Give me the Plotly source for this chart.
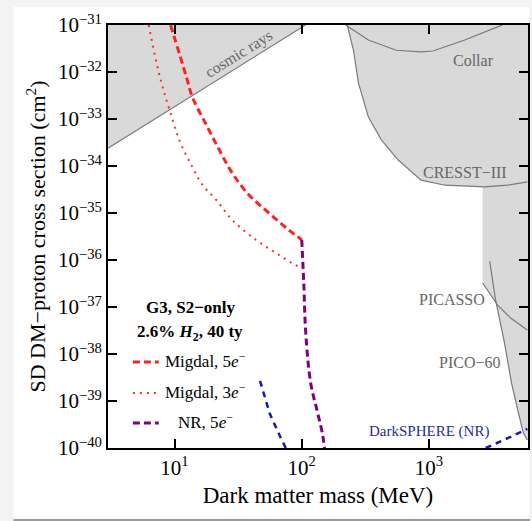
import math
import plotly.graph_objects as go

# ---- exclusion-region boundaries (DM mass in MeV, SD cross section in cm^2) ----
cosmic_mass = [3.0, 107.0]
cosmic_xs = [2.4e-34, 1.0e-31]

cresst_mass = [228, 255, 279, 334, 422, 573, 866, 1334, 2740, 4140, 5930]
cresst_xs = [1.0e-31, 2.9e-32, 5.8e-33, 1.1e-33, 3.6e-34, 1.34e-34, 5.0e-35,
             3.9e-35, 3.6e-35, 3.9e-35, 4.6e-35]

collar_mass = [221, 334, 552, 866, 1075, 1910, 3460, 3785]
collar_xs = [1.0e-31, 4.8e-32, 2.9e-32, 2.67e-32, 2.8e-32, 4.8e-32, 9.1e-32, 1.0e-31]

picasso_mass = [2640, 3460, 4375, 5420, 5930]
picasso_xs = [3.24e-37, 1.10e-37, 5.83e-38, 3.75e-38, 3.24e-38]

pico_mass = [3000, 3335, 3925, 4450, 5045, 5520, 5930]
pico_xs = [9.5e-37, 1.41e-37, 1.71e-38, 2.42e-39, 5.56e-40, 2.08e-40, 1.48e-40]

# ---- projected sensitivities ----
migdal5_mass = [9.31, 12.4, 13.8, 17.8, 22.5, 28.4, 38.5, 55.2, 79.1, 100]
migdal5_xs = [1e-31, 7.83e-33, 2.94e-33, 7.45e-34, 2.19e-34, 7.10e-35, 2.42e-35,
              1.0e-35, 4.35e-36, 2.7e-36]

migdal3_mass = [6.27, 7.22, 8.06, 9.14, 10.9, 13.8, 16.6, 21.3, 28.4, 43.7, 62.7, 83.5, 102]
migdal3_xs = [1e-31, 1.55e-32, 4.8e-33, 1.55e-33, 3.57e-34, 9.53e-35, 3.94e-35,
              1.89e-35, 7.10e-36, 2.67e-36, 1.41e-36, 8.63e-37, 6.6e-37]

nr5_mass = [100, 103.7, 107.5, 117.5, 133.4, 146, 151]
nr5_xs = [2.7e-36, 3.2e-37, 2.8e-38, 2.42e-39, 5.56e-40, 1.89e-40, 1.0e-40]

darksphere_mass = [47, 56.2, 68.5, 75, None, 2790, 3460, 4530, 5930]
darksphere_xs = [2.67e-39, 5.28e-40, 1.63e-40, 1.0e-40, None, 1e-40, 1.28e-40, 1.8e-40, 2.54e-40]

x_tick_vals = [10, 100, 1000]
x_tick_text = ["10<sup>1</sup>", "10<sup>2</sup>", "10<sup>3</sup>"]
y_tick_exps = list(range(-40, -30))
y_tick_vals = [10.0 ** e for e in y_tick_exps]
y_tick_text = ["10<sup>\u2212%d</sup>" % abs(e) for e in y_tick_exps]

MASS_MIN, MASS_MAX = 3.0, 6000.0
XS_MIN, XS_MAX = 1e-40, 1e-31

FILL = "#d9d9d9"
EDGE = "#7a7a7a"
LABEL = "#666666"
SERIF = "Liberation Serif, Times New Roman, serif"

fig = go.Figure()

# cosmic-ray bound (excluded above the line)
fig.add_trace(go.Scatter(
    x=cosmic_mass + [cosmic_mass[0]], y=cosmic_xs + [XS_MAX],
    fill="toself", fillcolor=FILL, line=dict(width=0), mode="lines", hoverinfo="skip"))
fig.add_trace(go.Scatter(x=cosmic_mass, y=cosmic_xs, mode="lines",
                         line=dict(color=EDGE, width=1.2)))

# CRESST-III (excluded above)
fig.add_trace(go.Scatter(
    x=cresst_mass + [MASS_MAX, MASS_MAX], y=cresst_xs + [cresst_xs[-1], XS_MAX],
    fill="toself", fillcolor=FILL, line=dict(width=0), mode="lines", hoverinfo="skip"))

# PICASSO (excluded above)
fig.add_trace(go.Scatter(
    x=[picasso_mass[0]] + picasso_mass + [MASS_MAX, MASS_MAX],
    y=[5e-35] + picasso_xs + [picasso_xs[-1], 5e-35],
    fill="toself", fillcolor=FILL, line=dict(width=0), mode="lines", hoverinfo="skip"))

# PICO-60 (excluded to the right)
fig.add_trace(go.Scatter(
    x=pico_mass + [MASS_MAX, MASS_MAX], y=pico_xs + [pico_xs[-1], pico_xs[0]],
    fill="toself", fillcolor=FILL, line=dict(width=0), mode="lines", hoverinfo="skip"))

for mx, sx in [(cresst_mass, cresst_xs), (collar_mass, collar_xs),
               (picasso_mass, picasso_xs), (pico_mass, pico_xs)]:
    fig.add_trace(go.Scatter(x=mx, y=sx, mode="lines", line=dict(color=EDGE, width=1.2)))

# projections
fig.add_trace(go.Scatter(x=darksphere_mass, y=darksphere_xs, mode="lines",
                         line=dict(color="#1a1aa8", width=2.5, dash="6px,5px")))
fig.add_trace(go.Scatter(x=migdal3_mass, y=migdal3_xs, mode="lines", line_shape="spline",
                         line=dict(color="#ff2a2a", width=2, dash="2px,5px")))
fig.add_trace(go.Scatter(x=migdal5_mass, y=migdal5_xs, mode="lines", line_shape="spline",
                         line=dict(color="#ff2020", width=3, dash="7px,4px")))
fig.add_trace(go.Scatter(x=nr5_mass, y=nr5_xs, mode="lines", line_shape="spline",
                         line=dict(color="#800080", width=3, dash="7px,4px")))


def lg(v):
    return math.log10(v)


def note(text, mass, xs, color=LABEL, size=16, angle=0):
    fig.add_annotation(x=lg(mass), y=lg(xs), text=text, showarrow=False,
                       xanchor="center", yanchor="middle",
                       textangle=angle, font=dict(family=SERIF, size=size, color=color))


note("cosmic rays", 32, 2.4e-32, size=16, angle=-31.7)
note("Collar", 2250, 1.8e-32)
note("CRESST\u2212III", 1910, 7.1e-35)
note("PICASSO", 1514, 1.48e-37)
note("PICO\u221260", 2090, 6.5e-39)
note("DarkSPHERE (NR)", 1000, 2.2e-40, color="#2a2aa0", size=15)

# key block
PW, PH = 422.0, 423.0


def px_x(p):
    return (p - 108) / PW


def px_y(p):
    return (448 - p) / PH


key_font = dict(family=SERIF, size=17, color="black")


def key_text(text, xp, yp):
    fig.add_annotation(xref="paper", yref="paper", x=px_x(xp), y=px_y(yp),
                       xanchor="center", yanchor="middle",
                       text=text, showarrow=False, font=key_font)


key_text("<b>G3, S2\u2212only</b>", 191, 307)
key_text("<b>2.6% <i>H</i><sub>2</sub>, 40 ty</b>", 190, 333)

key_rows = [
    ("Migdal, 5<i>e</i><sup>\u2212</sup>", "#ff2020", 3, "7px,4px", 362),
    ("Migdal, 3<i>e</i><sup>\u2212</sup>", "#ff2a2a", 2, "2px,5px", 393),
    ("NR, 5<i>e</i><sup>\u2212</sup>", "#800080", 3, "7px,4px", 423),
]
for label, color, width, dash, row in key_rows:
    fig.add_shape(type="line", xref="paper", yref="paper",
                  x0=px_x(133), x1=px_x(159), y0=px_y(row), y1=px_y(row),
                  line=dict(color=color, width=width, dash=dash))
    key_text(label, 206, row - 2)

# page card behind the figure
fig.add_shape(type="rect", xref="paper", yref="paper", layer="below",
              x0=px_x(13), x1=px_x(531), y0=px_y(519), y1=px_y(7),
              fillcolor="white", line=dict(width=0))
fig.add_shape(type="line", xref="paper", yref="paper", layer="below",
              x0=px_x(13), x1=px_x(532), y0=px_y(520), y1=px_y(520),
              line=dict(color="#9a9a9a", width=2))


def minor_vals(lo, hi):
    vals = []
    for e in range(lo, hi):
        for m in range(2, 10):
            vals.append(m * 10.0 ** e)
    return vals


tick_common = dict(
    type="log", showgrid=False, zeroline=False, mirror="allticks",
    ticks="inside", tickcolor="black", tickmode="array",
)

x_range = [lg(MASS_MIN), lg(MASS_MAX)]
y_range = [lg(XS_MIN), lg(XS_MAX)]

fig.update_layout(
    width=532, height=521,
    margin=dict(l=108, r=2, t=25, b=73),
    paper_bgcolor="#f3f3f3", plot_bgcolor="white",
    showlegend=False,
    xaxis=dict(
        tick_common, range=x_range, showline=True, linecolor="black", linewidth=1.8,
        ticklen=9, tickwidth=1.6,
        tickvals=x_tick_vals, ticktext=x_tick_text,
        tickfont=dict(family=SERIF, size=21, color="black"),
        title=dict(text="Dark matter mass (MeV)", standoff=8,
                   font=dict(family=SERIF, size=23, color="black")),
    ),
    yaxis=dict(
        tick_common, range=y_range, showline=True, linecolor="black", linewidth=1.8,
        ticklen=9, tickwidth=1.6,
        tickvals=y_tick_vals, ticktext=y_tick_text,
        tickfont=dict(family=SERIF, size=21, color="black"),
        title=dict(text="SD DM\u2212proton cross section (cm<sup>2</sup>)", standoff=6,
                   font=dict(family=SERIF, size=22, color="black")),
    ),
    # minor log ticks on overlaid, label-free axes
    xaxis2=dict(
        tick_common, range=x_range, overlaying="x", anchor="y", side="bottom",
        showline=False, ticklen=5, tickwidth=1.2, showticklabels=False,
        tickvals=minor_vals(0, 4),
    ),
    yaxis2=dict(
        tick_common, range=y_range, overlaying="y", anchor="x", side="left",
        showline=False, ticklen=5, tickwidth=1.2, showticklabels=False,
        tickvals=minor_vals(-41, -30),
    ),
)

fig.write_html("out.html")
